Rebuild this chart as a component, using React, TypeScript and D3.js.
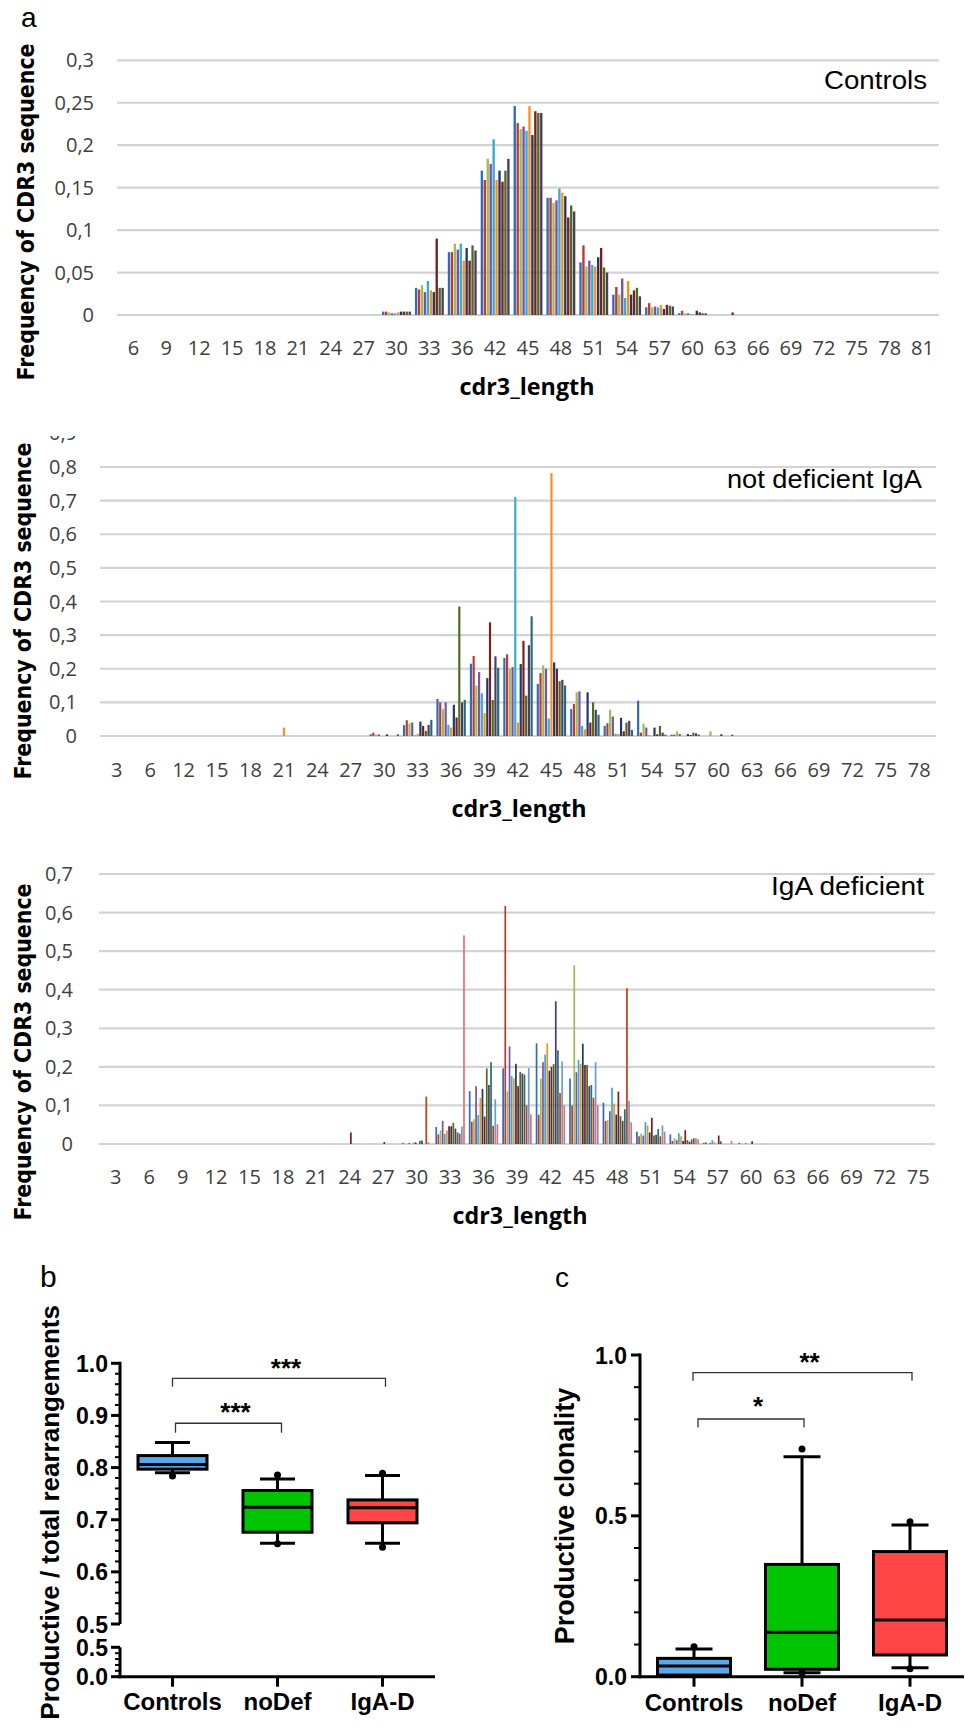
import React from "react";
import * as d3 from "d3";

// ---- panel a: CDR3 length distributions (one row per length, one value per sample) ----
const seriesColors = [
  "#2F6BC0", "#C0392B", "#9BBB59", "#7A52A6", "#3AAAD0", "#F7901E", "#1F3A68",
  "#7A1F1F", "#4E6B22", "#4D3B62", "#246B7E", "#C2410C", "#6E9BD6", "#E27272",
];

const controlsLengths = ["6", "9", "12", "15", "18", "21", "24", "27", "30", "33", "36", "42", "45", "48", "51", "54", "57", "60", "63", "66", "69", "72", "75", "78", "81"];
const controlsRows: number[][] = [
  [], [], [], [], [], [], [], [],
  [0.004, 0.004, 0.003, 0.002, 0.002, 0.003, 0.004, 0.004, 0.004, 0.004],
  [0.032, 0.030, 0.035, 0.027, 0.040, 0.029, 0.027, 0.090, 0.032, 0.032],
  [0.074, 0.074, 0.084, 0.077, 0.084, 0.064, 0.079, 0.064, 0.082, 0.076],
  [0.170, 0.159, 0.184, 0.178, 0.207, 0.159, 0.170, 0.157, 0.170, 0.184],
  [0.246, 0.226, 0.219, 0.222, 0.217, 0.246, 0.212, 0.240, 0.238, 0.238],
  [0.138, 0.138, 0.132, 0.135, 0.149, 0.144, 0.140, 0.115, 0.129, 0.122],
  [0.062, 0.082, 0.057, 0.064, 0.059, 0.057, 0.068, 0.079, 0.056, 0.050],
  [0.024, 0.033, 0.024, 0.043, 0.020, 0.040, 0.024, 0.029, 0.032, 0.022],
  [0.009, 0.014, 0.009, 0.010, 0.009, 0.012, 0.007, 0.012, 0.011, 0.010],
  [0.002, 0.005, 0.002, 0.002, 0.001, 0.001, 0.005, 0.003, 0.002, 0.002],
  [0, 0, 0, 0, 0, 0, 0, 0.003, 0, 0],
  [], [], [], [], [], [],
];
const controlsTicks = [0, 0.05, 0.1, 0.15, 0.2, 0.25, 0.3];

const noDefLengths = ["3", "6", "12", "15", "18", "21", "24", "27", "30", "33", "36", "39", "42", "45", "48", "51", "54", "57", "60", "63", "66", "69", "72", "75", "78"];
const noDefRows: number[][] = [
  [], [], [], [], [],
  [0, 0, 0, 0, 0, 0.025, 0, 0, 0, 0, 0],
  [], [],
  [0.005, 0.010, 0.004, 0.005, 0, 0, 0.005, 0, 0, 0, 0.005],
  [0.032, 0.047, 0.037, 0.040, 0.002, 0.006, 0.043, 0.030, 0.015, 0.033, 0.048],
  [0.110, 0.100, 0.080, 0.100, 0.033, 0.025, 0.093, 0.055, 0.385, 0.100, 0.107],
  [0.215, 0.238, 0.150, 0.190, 0.127, 0.068, 0.172, 0.338, 0.107, 0.237, 0.203],
  [0.232, 0.243, 0.200, 0.205, 0.711, 0.040, 0.214, 0.283, 0.120, 0.270, 0.356],
  [0.155, 0.187, 0.210, 0.200, 0.052, 0.782, 0.219, 0.200, 0.163, 0.167, 0.150],
  [0.080, 0.095, 0.130, 0.133, 0.030, 0.020, 0.130, 0.040, 0.100, 0.078, 0.063],
  [0.030, 0.038, 0.078, 0.058, 0.007, 0.006, 0.054, 0.014, 0.040, 0.045, 0.018],
  [0.105, 0.010, 0.037, 0.025, 0.002, 0.001, 0.025, 0.005, 0.030, 0.010, 0.004],
  [0.004, 0.004, 0.014, 0.006, 0, 0, 0.006, 0.003, 0.010, 0.008, 0.004],
  [0, 0, 0.014, 0, 0, 0, 0.005, 0, 0, 0, 0.004],
  [], [], [], [], [], [],
];
const noDefTicks = [0, 0.1, 0.2, 0.3, 0.4, 0.5, 0.6, 0.7, 0.8];

const igadLengths = ["3", "6", "9", "12", "15", "18", "21", "24", "27", "30", "33", "36", "39", "42", "45", "48", "51", "54", "57", "60", "63", "66", "69", "72", "75"];
const igadRows: number[][] = [
  [], [], [], [], [], [], [],
  [0, 0, 0, 0, 0, 0, 0, 0.030, 0, 0, 0, 0, 0, 0],
  [0, 0, 0, 0, 0, 0, 0, 0.005, 0, 0, 0, 0, 0, 0],
  [0.003, 0, 0, 0.003, 0, 0.004, 0.004, 0, 0.008, 0.009, 0, 0.123, 0.005, 0],
  [0.044, 0.025, 0.035, 0.060, 0.026, 0.035, 0.046, 0.046, 0.055, 0.040, 0.030, 0.027, 0.045, 0.541],
  [0.137, 0.058, 0.064, 0.150, 0.075, 0.120, 0.143, 0.071, 0.196, 0.153, 0.212, 0.047, 0.116, 0.051],
  [0.196, 0.617, 0.136, 0.253, 0.176, 0.170, 0.208, 0.150, 0.187, 0.183, 0.180, 0.100, 0.197, 0.077],
  [0.261, 0.076, 0.170, 0.212, 0.232, 0.261, 0.190, 0.200, 0.207, 0.370, 0.243, 0.132, 0.214, 0.100],
  [0.170, 0.100, 0.463, 0.186, 0.218, 0.208, 0.260, 0.205, 0.205, 0.150, 0.153, 0.120, 0.212, 0.100],
  [0.107, 0.060, 0.062, 0.085, 0.146, 0.105, 0.076, 0.136, 0.072, 0.060, 0.090, 0.404, 0.112, 0.056],
  [0.032, 0.020, 0.027, 0.022, 0.057, 0.048, 0.030, 0.068, 0.022, 0.024, 0.039, 0.020, 0.048, 0.032],
  [0.025, 0.008, 0.015, 0.010, 0.028, 0.020, 0.008, 0.036, 0.010, 0.006, 0.012, 0.015, 0.015, 0.012],
  [0.003, 0.004, 0, 0.003, 0.010, 0.005, 0, 0.022, 0.007, 0, 0, 0, 0, 0.008],
  [0, 0.003, 0, 0, 0.003, 0, 0, 0.007, 0, 0, 0, 0, 0, 0],
  [], [], [], [], [],
];
const igadTicks = [0, 0.1, 0.2, 0.3, 0.4, 0.5, 0.6, 0.7];

// ---- panels b and c: box plots ----
const groups = ["Controls", "noDef", "IgA-D"];
const groupColors = ["#58A8EC", "#00C400", "#FF4646"];

const ratioLow = [0.790, 0.655, 0.655];
const ratioQ1 = [0.797, 0.676, 0.694];
const ratioMedian = [0.806, 0.724, 0.723];
const ratioQ3 = [0.823, 0.756, 0.738];
const ratioHigh = [0.848, 0.778, 0.785];
const ratioDots = [[0.784], [0.786, 0.654], [0.789, 0.647]];

const clonLow = [0.003, 0.0125, 0.028];
const clonQ1 = [0.005, 0.023, 0.0675];
const clonMedian = [0.033, 0.138, 0.176];
const clonQ3 = [0.057, 0.349, 0.389];
const clonHigh = [0.086, 0.684, 0.4715];
const clonDots = [[0.093], [0.708, 0.012], [0.482, 0.025]];

const excelFont = "'Open Sans', 'Noto Sans', sans-serif";
const arial = "'Liberation Sans', Arial, sans-serif";
const verdana = "'DejaVu Sans', Verdana, sans-serif";

const fmtComma = (v: number) => String(+v.toFixed(2)).replace(".", ",");

type PanelProps = {
  cats: string[];
  rows: number[][];
  ticks: number[];
  left: number;
  right: number;
  bottom: number;
  top: number;
  labelRight: number;
  tickBase: number;
  xTitleX: number;
  xTitleBase: number;
  yTitleX: number;
  yTitleY: number;
  note: string;
  noteRight: number;
  noteBase: number;
  noteWidth: number;
  clipTick?: number;
  clipY?: number;
  id: string;
};

function BarPanel(p: PanelProps) {
  const yMax = p.ticks[p.ticks.length - 1];
  const x0 = d3.scaleBand<string>().domain(p.cats).range([p.left, p.right]);
  const nSeries = d3.max(p.rows, (r) => r.length) || 1;
  const x1 = d3
    .scaleBand<number>()
    .domain(d3.range(nSeries))
    .range([2, x0.bandwidth() - 2])
    .paddingInner(0.2);
  const y = d3.scaleLinear().domain([0, yMax]).range([p.bottom, p.top]);

  return (
    <g>
      {p.ticks.map((t) => (
        <line key={t} x1={p.left} x2={p.right} y1={y(t)} y2={y(t)} stroke="#d3d3d3" strokeWidth={2.2} />
      ))}
      {p.ticks.map((t) => (
        <text key={"l" + t} x={p.labelRight} y={y(t) + 7} textAnchor="end" fontSize={20} fontFamily={excelFont} fill="#404040">
          {fmtComma(t)}
        </text>
      ))}
      {p.clipTick !== undefined && (
        <>
          <clipPath id={p.id}>
            <rect x={0} y={p.clipY} width={200} height={40} />
          </clipPath>
          <text x={p.labelRight} y={y(p.clipTick) + 7} textAnchor="end" fontSize={20} fontFamily={excelFont} fill="#404040" clipPath={`url(#${p.id})`}>
            {fmtComma(p.clipTick)}
          </text>
        </>
      )}
      {p.rows.map((row, i) =>
        row.map((v, j) =>
          v > 0 ? (
            <rect
              key={i + "-" + j}
              x={(x0(p.cats[i]) as number) + (x1(j) as number)}
              y={y(v)}
              width={x1.bandwidth()}
              height={p.bottom - y(v)}
              fill={seriesColors[j % seriesColors.length]}
            />
          ) : null
        )
      )}
      {p.cats.map((c) => (
        <text key={"c" + c} x={(x0(c) as number) + x0.bandwidth() / 2} y={p.tickBase} textAnchor="middle" fontSize={20} fontFamily={excelFont} fill="#404040">
          {c}
        </text>
      ))}
      <text x={p.xTitleX} y={p.xTitleBase} textAnchor="middle" fontSize={24} fontWeight="bold" fontFamily={excelFont} textLength={135} lengthAdjust="spacingAndGlyphs">
        cdr3_length
      </text>
      <text
        transform={`translate(${p.yTitleX},${p.yTitleY}) rotate(-90)`}
        textAnchor="middle"
        fontSize={23}
        fontWeight="bold"
        fontFamily={verdana}
        textLength={337}
        lengthAdjust="spacingAndGlyphs"
      >
        Frequency  of CDR3 sequence
      </text>
      <text x={p.noteRight} y={p.noteBase} textAnchor="end" fontSize={25} fontFamily={arial} textLength={p.noteWidth} lengthAdjust="spacingAndGlyphs">
        {p.note}
      </text>
    </g>
  );
}

function Whiskers({ x, low, q1, med, q3, high, dots, y, boxW, capW, color }: any) {
  return (
    <g>
      <line x1={x} x2={x} y1={y(high)} y2={y(q3)} stroke="#000" strokeWidth={3} />
      <line x1={x} x2={x} y1={y(q1)} y2={y(low)} stroke="#000" strokeWidth={3} />
      <line x1={x - capW / 2} x2={x + capW / 2} y1={y(high)} y2={y(high)} stroke="#000" strokeWidth={3} />
      <line x1={x - capW / 2} x2={x + capW / 2} y1={y(low)} y2={y(low)} stroke="#000" strokeWidth={3} />
      <rect x={x - boxW / 2} y={y(q3)} width={boxW} height={y(q1) - y(q3)} fill={color} stroke="#000" strokeWidth={3} />
      <line x1={x - boxW / 2} x2={x + boxW / 2} y1={y(med)} y2={y(med)} stroke="#000" strokeWidth={3} />
      {dots.map((d: number, k: number) => (
        <circle key={k} cx={x} cy={y(d)} r={3.5} fill="#000" />
      ))}
    </g>
  );
}

function Bracket({ x1, x2, yTop, yLeg, label, labelBase }: any) {
  return (
    <g>
      <path d={`M${x1},${yLeg}V${yTop}H${x2}V${yLeg}`} fill="none" stroke="#333" strokeWidth={1.3} />
      <text x={(x1 + x2) / 2 + 7} y={labelBase} textAnchor="middle" fontSize={26} fontWeight="bold" fontFamily={arial}>
        {label}
      </text>
    </g>
  );
}

function PanelB() {
  const axisX = 120;
  const xAxisY = 1676.7;
  const x = d3.scaleBand<string>().domain(groups).range([axisX, 435]);
  const yUp = d3.scaleLinear().domain([0.5, 1.0]).range([1624, 1363.3]);
  const yLow = d3.scaleLinear().domain([0, 0.5]).range([xAxisY, 1647.3]);
  const upMajors = [0.5, 0.6, 0.7, 0.8, 0.9, 1.0];
  const upMinors = d3.range(0.52, 0.999, 0.02).filter((v) => Math.abs(v * 10 - Math.round(v * 10)) > 0.01);
  const lowMinors = [0.1, 0.2, 0.3, 0.4];
  const cx = (g: string) => (x(g) as number) + x.bandwidth() / 2;
  return (
    <g>
      <text x={40} y={1287} fontSize={30} fontFamily={arial}>b</text>
      <line x1={axisX} x2={axisX} y1={1361.8} y2={1624} stroke="#000" strokeWidth={3} />
      <line x1={axisX} x2={axisX} y1={1647.3} y2={xAxisY + 1.5} stroke="#000" strokeWidth={3} />
      <line x1={axisX - 1.5} x2={435} y1={xAxisY} y2={xAxisY} stroke="#000" strokeWidth={3} />
      {upMajors.map((v) => (
        <g key={"u" + v}>
          <line x1={axisX - 9} x2={axisX} y1={yUp(v)} y2={yUp(v)} stroke="#000" strokeWidth={3} />
          <text x={108} y={yUp(v) + 8.5} textAnchor="end" fontSize={23} fontWeight="bold" fontFamily={arial}>
            {v.toFixed(1)}
          </text>
        </g>
      ))}
      {upMinors.map((v) => (
        <line key={"m" + v} x1={axisX - 5} x2={axisX} y1={yUp(v)} y2={yUp(v)} stroke="#000" strokeWidth={2} />
      ))}
      {[0, 0.5].map((v) => (
        <g key={"lo" + v}>
          <line x1={axisX - 9} x2={axisX} y1={yLow(v)} y2={yLow(v)} stroke="#000" strokeWidth={3} />
          <text x={108} y={yLow(v) + 8.5} textAnchor="end" fontSize={23} fontWeight="bold" fontFamily={arial}>
            {v.toFixed(1)}
          </text>
        </g>
      ))}
      {lowMinors.map((v) => (
        <line key={"lm" + v} x1={axisX - 5} x2={axisX} y1={yLow(v)} y2={yLow(v)} stroke="#000" strokeWidth={2} />
      ))}
      {groups.map((g, i) => (
        <g key={g}>
          <line x1={cx(g)} x2={cx(g)} y1={xAxisY} y2={xAxisY + 10} stroke="#000" strokeWidth={3} />
          <text x={cx(g)} y={1710} textAnchor="middle" fontSize={24} fontWeight="bold" fontFamily={arial}>
            {g}
          </text>
          <Whiskers
            x={cx(g)}
            low={ratioLow[i]}
            q1={ratioQ1[i]}
            med={ratioMedian[i]}
            q3={ratioQ3[i]}
            high={ratioHigh[i]}
            dots={ratioDots[i]}
            y={yUp}
            boxW={69}
            capW={35}
            color={groupColors[i]}
          />
        </g>
      ))}
      <Bracket x1={cx(groups[0])} x2={cx(groups[2]) + 3} yTop={yUp(0.971)} yLeg={yUp(0.955)} label="***" labelBase={1377} />
      <Bracket x1={cx(groups[0]) + 3} x2={cx(groups[1]) + 4} yTop={yUp(0.885)} yLeg={yUp(0.867)} label="***" labelBase={1421} />
      <text transform="translate(59,1305) rotate(-90)" textAnchor="end" fontSize={26} fontWeight="bold" fontFamily={arial}>
        Productive / total rearrangements
      </text>
    </g>
  );
}

function PanelC() {
  const axisX = 640;
  const xAxisY = 1676.7;
  const x = d3.scaleBand<string>().domain(groups).range([axisX, 964]);
  const y = d3.scaleLinear().domain([0, 1]).range([xAxisY, 1355]);
  const majors = [0, 0.5, 1.0];
  const minors = [0.1, 0.2, 0.3, 0.4, 0.6, 0.7, 0.8, 0.9];
  const cx = (g: string) => (x(g) as number) + x.bandwidth() / 2;
  return (
    <g>
      <text x={555} y={1287} fontSize={28} fontFamily={arial}>c</text>
      <line x1={axisX} x2={axisX} y1={1353.5} y2={xAxisY + 1.5} stroke="#000" strokeWidth={3} />
      <line x1={axisX - 1.5} x2={964} y1={xAxisY} y2={xAxisY} stroke="#000" strokeWidth={3} />
      {majors.map((v) => (
        <g key={v}>
          <line x1={axisX - 9} x2={axisX} y1={y(v)} y2={y(v)} stroke="#000" strokeWidth={3} />
          <text x={627} y={y(v) + 8.5} textAnchor="end" fontSize={23} fontWeight="bold" fontFamily={arial}>
            {v.toFixed(1)}
          </text>
        </g>
      ))}
      {minors.map((v) => (
        <line key={"m" + v} x1={axisX - 6} x2={axisX} y1={y(v)} y2={y(v)} stroke="#000" strokeWidth={2} />
      ))}
      {groups.map((g, i) => (
        <g key={g}>
          <line x1={cx(g)} x2={cx(g)} y1={xAxisY} y2={xAxisY + 10} stroke="#000" strokeWidth={3} />
          <text x={cx(g)} y={1711} textAnchor="middle" fontSize={24} fontWeight="bold" fontFamily={arial}>
            {g}
          </text>
          <Whiskers
            x={cx(g)}
            low={clonLow[i]}
            q1={clonQ1[i]}
            med={clonMedian[i]}
            q3={clonQ3[i]}
            high={clonHigh[i]}
            dots={clonDots[i]}
            y={y}
            boxW={73}
            capW={37}
            color={groupColors[i]}
          />
        </g>
      ))}
      <Bracket x1={cx(groups[0]) - 1} x2={cx(groups[2]) + 2} yTop={y(0.945)} yLeg={y(0.92)} label="**" labelBase={1371} />
      <Bracket x1={cx(groups[0]) + 4} x2={cx(groups[1]) + 2} yTop={y(0.801)} yLeg={y(0.775)} label="*" labelBase={1415} />
      <text transform="translate(574,1516) rotate(-90)" textAnchor="middle" fontSize={27} fontWeight="bold" fontFamily={arial}>
        Productive clonality
      </text>
    </g>
  );
}

export default function App() {
  return (
    <svg width={966} height={1728} style={{ position: "absolute", left: 0, top: 0, background: "#fff" }}>
      <rect width={966} height={1728} fill="#fff" />
      <text x={21} y={27} fontSize={28} fontFamily={arial}>a</text>
      <BarPanel
        id="clipTop"
        cats={controlsLengths}
        rows={controlsRows}
        ticks={controlsTicks}
        left={117}
        right={939}
        bottom={315}
        top={60.3}
        labelRight={94}
        tickBase={355}
        xTitleX={527}
        xTitleBase={395}
        yTitleX={34}
        yTitleY={212}
        note="Controls"
        noteRight={927}
        noteBase={89}
        noteWidth={103}
      />
      <BarPanel
        id="clipMid"
        cats={noDefLengths}
        rows={noDefRows}
        ticks={noDefTicks}
        left={100}
        right={936}
        bottom={736}
        top={467}
        labelRight={77}
        tickBase={777}
        xTitleX={519}
        xTitleBase={817}
        yTitleX={31}
        yTitleY={611}
        note="not deficient IgA"
        noteRight={922}
        noteBase={488}
        noteWidth={195}
        clipTick={0.9}
        clipY={436}
      />
      <BarPanel
        id="clipBot"
        cats={igadLengths}
        rows={igadRows}
        ticks={igadTicks}
        left={99}
        right={935}
        bottom={1144}
        top={874}
        labelRight={73}
        tickBase={1184}
        xTitleX={520}
        xTitleBase={1224}
        yTitleX={31}
        yTitleY={1052}
        note="IgA deficient"
        noteRight={924}
        noteBase={895}
        noteWidth={153}
      />
      <PanelB />
      <PanelC />
    </svg>
  );
}
